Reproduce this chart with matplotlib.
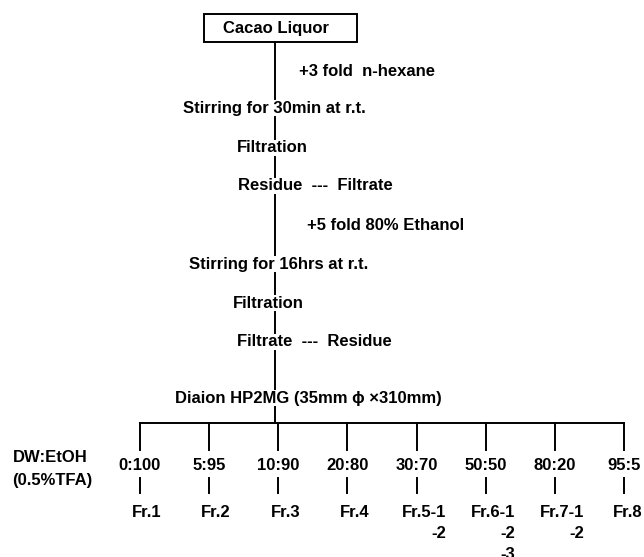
import matplotlib
matplotlib.use("Agg")
import matplotlib.pyplot as plt
import numpy as np

plt.rcParams['font.family'] = ['Liberation Sans', 'DejaVu Sans']
plt.rcParams['font.weight'] = 'bold'

# flow steps down the main line
start = "Cacao Liquor"
steps = ["Stirring for 30min at r.t.", "Filtration", "Residue  ---  Filtrate",
         "Stirring for 16hrs at r.t.", "Filtration", "Filtrate  ---  Residue",
         "Diaion HP2MG (35mm \u03d5 \u00d7310mm)"]
additions = ["+3 fold  n-hexane", "+5 fold 80% Ethanol"]

# elution gradient and fractions
solvent = ["DW:EtOH", "(0.5%TFA)"]
ratios = ["0:100", "5:95", "10:90", "20:80", "30:70", "50:50", "80:20", "95:5"]
fractions = ["Fr.1", "Fr.2", "Fr.3", "Fr.4", "Fr.5", "Fr.6", "Fr.7", "Fr.8"]
n_sub = [1, 1, 1, 1, 2, 3, 2, 1]

fig = plt.figure(figsize=(6.44, 5.57), dpi=100)
ax = fig.add_axes([0, 0, 1, 1])
ax.set_xlim(0, 644)
ax.set_ylim(557, 0)
ax.axis('off')

fs = 12
lw = 1.4
xm = 275

# top box
ax.add_patch(plt.Rectangle((204, 14), 153, 28, fill=False, lw=lw, ec='black'))
ax.text(276, 29, start, ha='center', va='center', fontsize=fs)

step_y = [108, 148, 186, 264, 303, 342, 398]
step_x = [183, 237, 238, 189, 233, 237, 175]
for s, x, y in zip(steps, step_x, step_y):
    ax.text(x, y, s, ha='left', va='center', fontsize=fs)

ax.text(299, 71, additions[0], ha='left', va='center', fontsize=fs)
ax.text(307, 225, additions[1], ha='left', va='center', fontsize=fs)

# main vertical segments between rows
tops = [42] + [y + 9 for y in step_y]
bots = [y - 9 for y in step_y] + [423]
for t, b in zip(tops, bots):
    ax.plot([xm, xm], [t, b], color='black', lw=lw)

# branch line
xs = np.linspace(140, 624, len(ratios))
ax.plot([xs[0], xs[-1]], [423, 423], color='black', lw=lw)
for i, x in enumerate(xs):
    ax.plot([x, x], [423, 450], color='black', lw=lw)
    ax.text(x, 465, ratios[i], ha='center', va='center', fontsize=fs)
    ax.plot([x, x], [478, 493], color='black', lw=lw)
    lab = fractions[i]
    if n_sub[i] > 1:
        lab = lab + "-1" + "".join("\n-%d" % k for k in range(2, n_sub[i] + 1))
    ax.text(min(x + 7, 628), 505, lab, ha='center', va='top', multialignment='right',
            fontsize=fs, linespacing=1.5)

ax.text(13, 457, solvent[0], ha='left', va='center', fontsize=fs)
ax.text(12, 481, solvent[1], ha='left', va='center', fontsize=fs)

fig.savefig("out.png", dpi=100, facecolor='white')
